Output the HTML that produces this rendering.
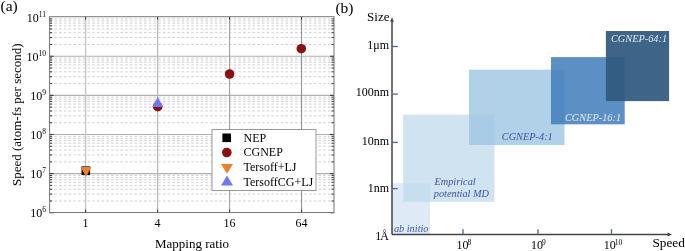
<!DOCTYPE html>
<html><head><meta charset="utf-8"><style>
html,body{margin:0;padding:0;background:#fff;width:685px;height:251px;overflow:hidden}
svg{display:block;will-change:transform}
text{font-family:"Liberation Serif",serif}
.t12{font-size:12px} .t13{font-size:13px} .t15{font-size:15.5px}
.ti{font-size:10.3px;font-style:italic}
</style></head><body>
<svg width="685" height="251" viewBox="0 0 685 251"><rect x="0" y="0" width="685" height="251" fill="#fff"/>
<line x1="49.6" x2="334.0" y1="200.99" y2="200.99" stroke="#d0d0d0" stroke-width="1" stroke-dasharray="2.6 2.116" stroke-dashoffset="-0.1"/>
<line x1="49.6" x2="334.0" y1="194.10" y2="194.10" stroke="#d0d0d0" stroke-width="1" stroke-dasharray="2.6 2.116" stroke-dashoffset="-0.1"/>
<line x1="49.6" x2="334.0" y1="189.21" y2="189.21" stroke="#d0d0d0" stroke-width="1" stroke-dasharray="2.6 2.116" stroke-dashoffset="-0.1"/>
<line x1="49.6" x2="334.0" y1="185.42" y2="185.42" stroke="#d0d0d0" stroke-width="1" stroke-dasharray="2.6 2.116" stroke-dashoffset="-0.1"/>
<line x1="49.6" x2="334.0" y1="182.32" y2="182.32" stroke="#d0d0d0" stroke-width="1" stroke-dasharray="2.6 2.116" stroke-dashoffset="-0.1"/>
<line x1="49.6" x2="334.0" y1="179.70" y2="179.70" stroke="#d0d0d0" stroke-width="1" stroke-dasharray="2.6 2.116" stroke-dashoffset="-0.1"/>
<line x1="49.6" x2="334.0" y1="177.43" y2="177.43" stroke="#d0d0d0" stroke-width="1" stroke-dasharray="2.6 2.116" stroke-dashoffset="-0.1"/>
<line x1="49.6" x2="334.0" y1="175.43" y2="175.43" stroke="#d0d0d0" stroke-width="1" stroke-dasharray="2.6 2.116" stroke-dashoffset="-0.1"/>
<line x1="49.6" x2="334.0" y1="161.86" y2="161.86" stroke="#d0d0d0" stroke-width="1" stroke-dasharray="2.6 2.116" stroke-dashoffset="-0.1"/>
<line x1="49.6" x2="334.0" y1="154.97" y2="154.97" stroke="#d0d0d0" stroke-width="1" stroke-dasharray="2.6 2.116" stroke-dashoffset="-0.1"/>
<line x1="49.6" x2="334.0" y1="150.08" y2="150.08" stroke="#d0d0d0" stroke-width="1" stroke-dasharray="2.6 2.116" stroke-dashoffset="-0.1"/>
<line x1="49.6" x2="334.0" y1="146.29" y2="146.29" stroke="#d0d0d0" stroke-width="1" stroke-dasharray="2.6 2.116" stroke-dashoffset="-0.1"/>
<line x1="49.6" x2="334.0" y1="143.19" y2="143.19" stroke="#d0d0d0" stroke-width="1" stroke-dasharray="2.6 2.116" stroke-dashoffset="-0.1"/>
<line x1="49.6" x2="334.0" y1="140.57" y2="140.57" stroke="#d0d0d0" stroke-width="1" stroke-dasharray="2.6 2.116" stroke-dashoffset="-0.1"/>
<line x1="49.6" x2="334.0" y1="138.30" y2="138.30" stroke="#d0d0d0" stroke-width="1" stroke-dasharray="2.6 2.116" stroke-dashoffset="-0.1"/>
<line x1="49.6" x2="334.0" y1="136.30" y2="136.30" stroke="#d0d0d0" stroke-width="1" stroke-dasharray="2.6 2.116" stroke-dashoffset="-0.1"/>
<line x1="49.6" x2="334.0" y1="122.73" y2="122.73" stroke="#d0d0d0" stroke-width="1" stroke-dasharray="2.6 2.116" stroke-dashoffset="-0.1"/>
<line x1="49.6" x2="334.0" y1="115.84" y2="115.84" stroke="#d0d0d0" stroke-width="1" stroke-dasharray="2.6 2.116" stroke-dashoffset="-0.1"/>
<line x1="49.6" x2="334.0" y1="110.95" y2="110.95" stroke="#d0d0d0" stroke-width="1" stroke-dasharray="2.6 2.116" stroke-dashoffset="-0.1"/>
<line x1="49.6" x2="334.0" y1="107.16" y2="107.16" stroke="#d0d0d0" stroke-width="1" stroke-dasharray="2.6 2.116" stroke-dashoffset="-0.1"/>
<line x1="49.6" x2="334.0" y1="104.06" y2="104.06" stroke="#d0d0d0" stroke-width="1" stroke-dasharray="2.6 2.116" stroke-dashoffset="-0.1"/>
<line x1="49.6" x2="334.0" y1="101.44" y2="101.44" stroke="#d0d0d0" stroke-width="1" stroke-dasharray="2.6 2.116" stroke-dashoffset="-0.1"/>
<line x1="49.6" x2="334.0" y1="99.17" y2="99.17" stroke="#d0d0d0" stroke-width="1" stroke-dasharray="2.6 2.116" stroke-dashoffset="-0.1"/>
<line x1="49.6" x2="334.0" y1="97.17" y2="97.17" stroke="#d0d0d0" stroke-width="1" stroke-dasharray="2.6 2.116" stroke-dashoffset="-0.1"/>
<line x1="49.6" x2="334.0" y1="83.60" y2="83.60" stroke="#d0d0d0" stroke-width="1" stroke-dasharray="2.6 2.116" stroke-dashoffset="-0.1"/>
<line x1="49.6" x2="334.0" y1="76.71" y2="76.71" stroke="#d0d0d0" stroke-width="1" stroke-dasharray="2.6 2.116" stroke-dashoffset="-0.1"/>
<line x1="49.6" x2="334.0" y1="71.82" y2="71.82" stroke="#d0d0d0" stroke-width="1" stroke-dasharray="2.6 2.116" stroke-dashoffset="-0.1"/>
<line x1="49.6" x2="334.0" y1="68.03" y2="68.03" stroke="#d0d0d0" stroke-width="1" stroke-dasharray="2.6 2.116" stroke-dashoffset="-0.1"/>
<line x1="49.6" x2="334.0" y1="64.93" y2="64.93" stroke="#d0d0d0" stroke-width="1" stroke-dasharray="2.6 2.116" stroke-dashoffset="-0.1"/>
<line x1="49.6" x2="334.0" y1="62.31" y2="62.31" stroke="#d0d0d0" stroke-width="1" stroke-dasharray="2.6 2.116" stroke-dashoffset="-0.1"/>
<line x1="49.6" x2="334.0" y1="60.04" y2="60.04" stroke="#d0d0d0" stroke-width="1" stroke-dasharray="2.6 2.116" stroke-dashoffset="-0.1"/>
<line x1="49.6" x2="334.0" y1="58.04" y2="58.04" stroke="#d0d0d0" stroke-width="1" stroke-dasharray="2.6 2.116" stroke-dashoffset="-0.1"/>
<line x1="49.6" x2="334.0" y1="44.47" y2="44.47" stroke="#d0d0d0" stroke-width="1" stroke-dasharray="2.6 2.116" stroke-dashoffset="-0.1"/>
<line x1="49.6" x2="334.0" y1="37.58" y2="37.58" stroke="#d0d0d0" stroke-width="1" stroke-dasharray="2.6 2.116" stroke-dashoffset="-0.1"/>
<line x1="49.6" x2="334.0" y1="32.69" y2="32.69" stroke="#d0d0d0" stroke-width="1" stroke-dasharray="2.6 2.116" stroke-dashoffset="-0.1"/>
<line x1="49.6" x2="334.0" y1="28.90" y2="28.90" stroke="#d0d0d0" stroke-width="1" stroke-dasharray="2.6 2.116" stroke-dashoffset="-0.1"/>
<line x1="49.6" x2="334.0" y1="25.80" y2="25.80" stroke="#d0d0d0" stroke-width="1" stroke-dasharray="2.6 2.116" stroke-dashoffset="-0.1"/>
<line x1="49.6" x2="334.0" y1="23.18" y2="23.18" stroke="#d0d0d0" stroke-width="1" stroke-dasharray="2.6 2.116" stroke-dashoffset="-0.1"/>
<line x1="49.6" x2="334.0" y1="20.91" y2="20.91" stroke="#d0d0d0" stroke-width="1" stroke-dasharray="2.6 2.116" stroke-dashoffset="-0.1"/>
<line x1="49.6" x2="334.0" y1="18.91" y2="18.91" stroke="#d0d0d0" stroke-width="1" stroke-dasharray="2.6 2.116" stroke-dashoffset="-0.1"/>
<line x1="49.6" x2="334.0" y1="173.64" y2="173.64" stroke="#b0b0b0" stroke-width="1.2"/>
<line x1="49.6" x2="334.0" y1="134.51" y2="134.51" stroke="#b0b0b0" stroke-width="1.2"/>
<line x1="49.6" x2="334.0" y1="95.38" y2="95.38" stroke="#b0b0b0" stroke-width="1.2"/>
<line x1="49.6" x2="334.0" y1="56.25" y2="56.25" stroke="#b0b0b0" stroke-width="1.2"/>
<line x1="85.6" x2="85.6" y1="16.7" y2="212.5" stroke="#c4c4c4" stroke-width="1.3"/>
<line x1="157.6" x2="157.6" y1="16.7" y2="212.5" stroke="#b8b8b8" stroke-width="1.2"/>
<line x1="229.6" x2="229.6" y1="16.7" y2="212.5" stroke="#999" stroke-width="1"/>
<line x1="301.6" x2="301.6" y1="16.7" y2="212.5" stroke="#8a8a8a" stroke-width="1"/>
<line x1="49.6" x2="52.1" y1="200.99" y2="200.99" stroke="#333" stroke-width="1"/>
<line x1="331.5" x2="334.0" y1="200.99" y2="200.99" stroke="#333" stroke-width="1"/>
<line x1="49.6" x2="52.1" y1="194.10" y2="194.10" stroke="#333" stroke-width="1"/>
<line x1="331.5" x2="334.0" y1="194.10" y2="194.10" stroke="#333" stroke-width="1"/>
<line x1="49.6" x2="52.1" y1="189.21" y2="189.21" stroke="#333" stroke-width="1"/>
<line x1="331.5" x2="334.0" y1="189.21" y2="189.21" stroke="#333" stroke-width="1"/>
<line x1="49.6" x2="52.1" y1="185.42" y2="185.42" stroke="#333" stroke-width="1"/>
<line x1="331.5" x2="334.0" y1="185.42" y2="185.42" stroke="#333" stroke-width="1"/>
<line x1="49.6" x2="52.1" y1="182.32" y2="182.32" stroke="#333" stroke-width="1"/>
<line x1="331.5" x2="334.0" y1="182.32" y2="182.32" stroke="#333" stroke-width="1"/>
<line x1="49.6" x2="52.1" y1="179.70" y2="179.70" stroke="#333" stroke-width="1"/>
<line x1="331.5" x2="334.0" y1="179.70" y2="179.70" stroke="#333" stroke-width="1"/>
<line x1="49.6" x2="52.1" y1="177.43" y2="177.43" stroke="#333" stroke-width="1"/>
<line x1="331.5" x2="334.0" y1="177.43" y2="177.43" stroke="#333" stroke-width="1"/>
<line x1="49.6" x2="52.1" y1="175.43" y2="175.43" stroke="#333" stroke-width="1"/>
<line x1="331.5" x2="334.0" y1="175.43" y2="175.43" stroke="#333" stroke-width="1"/>
<line x1="49.6" x2="53.6" y1="212.77" y2="212.77" stroke="#333" stroke-width="1"/>
<line x1="330.0" x2="334.0" y1="212.77" y2="212.77" stroke="#333" stroke-width="1"/>
<line x1="49.6" x2="52.1" y1="161.86" y2="161.86" stroke="#333" stroke-width="1"/>
<line x1="331.5" x2="334.0" y1="161.86" y2="161.86" stroke="#333" stroke-width="1"/>
<line x1="49.6" x2="52.1" y1="154.97" y2="154.97" stroke="#333" stroke-width="1"/>
<line x1="331.5" x2="334.0" y1="154.97" y2="154.97" stroke="#333" stroke-width="1"/>
<line x1="49.6" x2="52.1" y1="150.08" y2="150.08" stroke="#333" stroke-width="1"/>
<line x1="331.5" x2="334.0" y1="150.08" y2="150.08" stroke="#333" stroke-width="1"/>
<line x1="49.6" x2="52.1" y1="146.29" y2="146.29" stroke="#333" stroke-width="1"/>
<line x1="331.5" x2="334.0" y1="146.29" y2="146.29" stroke="#333" stroke-width="1"/>
<line x1="49.6" x2="52.1" y1="143.19" y2="143.19" stroke="#333" stroke-width="1"/>
<line x1="331.5" x2="334.0" y1="143.19" y2="143.19" stroke="#333" stroke-width="1"/>
<line x1="49.6" x2="52.1" y1="140.57" y2="140.57" stroke="#333" stroke-width="1"/>
<line x1="331.5" x2="334.0" y1="140.57" y2="140.57" stroke="#333" stroke-width="1"/>
<line x1="49.6" x2="52.1" y1="138.30" y2="138.30" stroke="#333" stroke-width="1"/>
<line x1="331.5" x2="334.0" y1="138.30" y2="138.30" stroke="#333" stroke-width="1"/>
<line x1="49.6" x2="52.1" y1="136.30" y2="136.30" stroke="#333" stroke-width="1"/>
<line x1="331.5" x2="334.0" y1="136.30" y2="136.30" stroke="#333" stroke-width="1"/>
<line x1="49.6" x2="53.6" y1="173.64" y2="173.64" stroke="#333" stroke-width="1"/>
<line x1="330.0" x2="334.0" y1="173.64" y2="173.64" stroke="#333" stroke-width="1"/>
<line x1="49.6" x2="52.1" y1="122.73" y2="122.73" stroke="#333" stroke-width="1"/>
<line x1="331.5" x2="334.0" y1="122.73" y2="122.73" stroke="#333" stroke-width="1"/>
<line x1="49.6" x2="52.1" y1="115.84" y2="115.84" stroke="#333" stroke-width="1"/>
<line x1="331.5" x2="334.0" y1="115.84" y2="115.84" stroke="#333" stroke-width="1"/>
<line x1="49.6" x2="52.1" y1="110.95" y2="110.95" stroke="#333" stroke-width="1"/>
<line x1="331.5" x2="334.0" y1="110.95" y2="110.95" stroke="#333" stroke-width="1"/>
<line x1="49.6" x2="52.1" y1="107.16" y2="107.16" stroke="#333" stroke-width="1"/>
<line x1="331.5" x2="334.0" y1="107.16" y2="107.16" stroke="#333" stroke-width="1"/>
<line x1="49.6" x2="52.1" y1="104.06" y2="104.06" stroke="#333" stroke-width="1"/>
<line x1="331.5" x2="334.0" y1="104.06" y2="104.06" stroke="#333" stroke-width="1"/>
<line x1="49.6" x2="52.1" y1="101.44" y2="101.44" stroke="#333" stroke-width="1"/>
<line x1="331.5" x2="334.0" y1="101.44" y2="101.44" stroke="#333" stroke-width="1"/>
<line x1="49.6" x2="52.1" y1="99.17" y2="99.17" stroke="#333" stroke-width="1"/>
<line x1="331.5" x2="334.0" y1="99.17" y2="99.17" stroke="#333" stroke-width="1"/>
<line x1="49.6" x2="52.1" y1="97.17" y2="97.17" stroke="#333" stroke-width="1"/>
<line x1="331.5" x2="334.0" y1="97.17" y2="97.17" stroke="#333" stroke-width="1"/>
<line x1="49.6" x2="53.6" y1="134.51" y2="134.51" stroke="#333" stroke-width="1"/>
<line x1="330.0" x2="334.0" y1="134.51" y2="134.51" stroke="#333" stroke-width="1"/>
<line x1="49.6" x2="52.1" y1="83.60" y2="83.60" stroke="#333" stroke-width="1"/>
<line x1="331.5" x2="334.0" y1="83.60" y2="83.60" stroke="#333" stroke-width="1"/>
<line x1="49.6" x2="52.1" y1="76.71" y2="76.71" stroke="#333" stroke-width="1"/>
<line x1="331.5" x2="334.0" y1="76.71" y2="76.71" stroke="#333" stroke-width="1"/>
<line x1="49.6" x2="52.1" y1="71.82" y2="71.82" stroke="#333" stroke-width="1"/>
<line x1="331.5" x2="334.0" y1="71.82" y2="71.82" stroke="#333" stroke-width="1"/>
<line x1="49.6" x2="52.1" y1="68.03" y2="68.03" stroke="#333" stroke-width="1"/>
<line x1="331.5" x2="334.0" y1="68.03" y2="68.03" stroke="#333" stroke-width="1"/>
<line x1="49.6" x2="52.1" y1="64.93" y2="64.93" stroke="#333" stroke-width="1"/>
<line x1="331.5" x2="334.0" y1="64.93" y2="64.93" stroke="#333" stroke-width="1"/>
<line x1="49.6" x2="52.1" y1="62.31" y2="62.31" stroke="#333" stroke-width="1"/>
<line x1="331.5" x2="334.0" y1="62.31" y2="62.31" stroke="#333" stroke-width="1"/>
<line x1="49.6" x2="52.1" y1="60.04" y2="60.04" stroke="#333" stroke-width="1"/>
<line x1="331.5" x2="334.0" y1="60.04" y2="60.04" stroke="#333" stroke-width="1"/>
<line x1="49.6" x2="52.1" y1="58.04" y2="58.04" stroke="#333" stroke-width="1"/>
<line x1="331.5" x2="334.0" y1="58.04" y2="58.04" stroke="#333" stroke-width="1"/>
<line x1="49.6" x2="53.6" y1="95.38" y2="95.38" stroke="#333" stroke-width="1"/>
<line x1="330.0" x2="334.0" y1="95.38" y2="95.38" stroke="#333" stroke-width="1"/>
<line x1="49.6" x2="52.1" y1="44.47" y2="44.47" stroke="#333" stroke-width="1"/>
<line x1="331.5" x2="334.0" y1="44.47" y2="44.47" stroke="#333" stroke-width="1"/>
<line x1="49.6" x2="52.1" y1="37.58" y2="37.58" stroke="#333" stroke-width="1"/>
<line x1="331.5" x2="334.0" y1="37.58" y2="37.58" stroke="#333" stroke-width="1"/>
<line x1="49.6" x2="52.1" y1="32.69" y2="32.69" stroke="#333" stroke-width="1"/>
<line x1="331.5" x2="334.0" y1="32.69" y2="32.69" stroke="#333" stroke-width="1"/>
<line x1="49.6" x2="52.1" y1="28.90" y2="28.90" stroke="#333" stroke-width="1"/>
<line x1="331.5" x2="334.0" y1="28.90" y2="28.90" stroke="#333" stroke-width="1"/>
<line x1="49.6" x2="52.1" y1="25.80" y2="25.80" stroke="#333" stroke-width="1"/>
<line x1="331.5" x2="334.0" y1="25.80" y2="25.80" stroke="#333" stroke-width="1"/>
<line x1="49.6" x2="52.1" y1="23.18" y2="23.18" stroke="#333" stroke-width="1"/>
<line x1="331.5" x2="334.0" y1="23.18" y2="23.18" stroke="#333" stroke-width="1"/>
<line x1="49.6" x2="52.1" y1="20.91" y2="20.91" stroke="#333" stroke-width="1"/>
<line x1="331.5" x2="334.0" y1="20.91" y2="20.91" stroke="#333" stroke-width="1"/>
<line x1="49.6" x2="52.1" y1="18.91" y2="18.91" stroke="#333" stroke-width="1"/>
<line x1="331.5" x2="334.0" y1="18.91" y2="18.91" stroke="#333" stroke-width="1"/>
<line x1="49.6" x2="53.6" y1="56.25" y2="56.25" stroke="#333" stroke-width="1"/>
<line x1="330.0" x2="334.0" y1="56.25" y2="56.25" stroke="#333" stroke-width="1"/>
<line x1="85.6" x2="85.6" y1="209.5" y2="212.5" stroke="#333" stroke-width="1"/>
<line x1="85.6" x2="85.6" y1="16.7" y2="19.7" stroke="#333" stroke-width="1"/>
<line x1="157.6" x2="157.6" y1="209.5" y2="212.5" stroke="#333" stroke-width="1"/>
<line x1="157.6" x2="157.6" y1="16.7" y2="19.7" stroke="#333" stroke-width="1"/>
<line x1="229.6" x2="229.6" y1="209.5" y2="212.5" stroke="#333" stroke-width="1"/>
<line x1="229.6" x2="229.6" y1="16.7" y2="19.7" stroke="#333" stroke-width="1"/>
<line x1="301.6" x2="301.6" y1="209.5" y2="212.5" stroke="#333" stroke-width="1"/>
<line x1="301.6" x2="301.6" y1="16.7" y2="19.7" stroke="#333" stroke-width="1"/>
<rect x="49.6" y="16.7" width="284.4" height="195.8" fill="none" stroke="#777" stroke-width="1"/>
<text x="46" y="217.27" text-anchor="end" class="t12">10<tspan dy="-5" font-size="7.5">6</tspan></text>
<text x="46" y="178.14" text-anchor="end" class="t12">10<tspan dy="-5" font-size="7.5">7</tspan></text>
<text x="46" y="139.01" text-anchor="end" class="t12">10<tspan dy="-5" font-size="7.5">8</tspan></text>
<text x="46" y="99.88" text-anchor="end" class="t12">10<tspan dy="-5" font-size="7.5">9</tspan></text>
<text x="46" y="60.75" text-anchor="end" class="t12">10<tspan dy="-5" font-size="7.5">10</tspan></text>
<text x="46" y="21.62" text-anchor="end" class="t12">10<tspan dy="-5" font-size="7.5">11</tspan></text>
<text x="85.6" y="227" text-anchor="middle" class="t12">1</text>
<text x="157.6" y="227" text-anchor="middle" class="t12">4</text>
<text x="229.6" y="227" text-anchor="middle" class="t12">16</text>
<text x="301.6" y="227" text-anchor="middle" class="t12">64</text>
<text x="192" y="248" text-anchor="middle" class="t13">Mapping ratio</text>
<text transform="translate(21,114.7) rotate(-90)" text-anchor="middle" class="t13">Speed (atom-fs per second)</text>
<text x="0.5" y="11" class="t15">(a)</text>
<rect x="81.5" y="166.39999999999998" width="8.6" height="8.6" fill="#000"/>
<polygon points="80.5,167.0 91.5,167.0 86,177.0" fill="#e8812f"/>
<circle cx="157.7" cy="106.7" r="4.8" fill="#8b1111"/>
<polygon points="152.2,107.0 163.2,107.0 157.7,97.0" fill="#6f78f2"/>
<circle cx="229.6" cy="74.0" r="4.8" fill="#8b1111"/>
<circle cx="301.3" cy="48.7" r="4.8" fill="#8b1111"/>
<rect x="212" y="129.5" width="104" height="61" fill="#fff" stroke="#999" stroke-width="1"/>
<rect x="222.39999999999998" y="133.5" width="8.6" height="8.6" fill="#000"/>
<circle cx="226.8" cy="152.5" r="4.8" fill="#8b1111"/>
<polygon points="221.0,164.1 233.0,164.1 227,173.70000000000002" fill="#e8812f"/>
<polygon points="221.0,185.6 233.0,185.6 227,175.6" fill="#6f78f2"/>
<text x="243.5" y="141.7" class="t12">NEP</text>
<text x="243.5" y="156.4" class="t12">CGNEP</text>
<text x="243.5" y="171.3" class="t12">Tersoff+LJ</text>
<text x="243.5" y="185.8" class="t12">TersoffCG+LJ</text>
<text x="335.4" y="12.7" class="t15">(b)</text>
<rect x="392.0" y="183.2" width="38.0" height="51.30000000000001" fill="#deebf6" fill-opacity="1"/>
<rect x="403.2" y="114.7" width="91.19999999999999" height="87.10000000000001" fill="#c0daed" fill-opacity="0.76"/>
<rect x="469" y="69.7" width="95.5" height="75.3" fill="#9ec6e4" fill-opacity="0.8"/>
<rect x="551.0" y="57.1" width="73.70000000000005" height="67.19999999999999" fill="#447ebb" fill-opacity="0.87"/>
<rect x="605.9" y="31" width="63.200000000000045" height="70.1" fill="#325a80" fill-opacity="0.94"/>
<text x="393.9" y="232.4" class="ti" style="fill:#3f549c">ab initio</text>
<text x="434.5" y="184.5" class="ti" style="fill:#3f549c">Empirical</text>
<text x="433.8" y="196.5" class="ti" style="fill:#3f549c">potential MD</text>
<text x="501.8" y="140" class="ti" style="fill:#3f549c">CGNEP-4:1</text>
<text x="565" y="121.3" class="ti" style="fill:#e4ebf4">CGNEP-16:1</text>
<text x="611" y="41.7" class="ti" style="fill:#e4ebf4">CGNEP-64:1</text>
<line x1="392.0" x2="392.0" y1="234.5" y2="21" stroke="#444" stroke-width="1.5"/>
<polygon points="392.0,17.3 390.1,21.8 393.9,21.8" fill="#444"/>
<line x1="392.0" x2="668" y1="234.5" y2="234.5" stroke="#444" stroke-width="1.5"/>
<polygon points="672,234.5 667.6,232.4 667.6,236.6" fill="#444"/>
<line x1="392.0" x2="397.8" y1="46.5" y2="46.5" stroke="#50658a" stroke-width="1.3"/>
<text x="389" y="48.6" text-anchor="end" class="t12">1μm</text>
<line x1="392.0" x2="397.8" y1="94.1" y2="94.1" stroke="#50658a" stroke-width="1.3"/>
<text x="389" y="96.0" text-anchor="end" class="t12">100nm</text>
<line x1="392.0" x2="397.8" y1="142.4" y2="142.4" stroke="#50658a" stroke-width="1.3"/>
<text x="389" y="144.8" text-anchor="end" class="t12">10nm</text>
<line x1="392.0" x2="397.8" y1="188.6" y2="188.6" stroke="#50658a" stroke-width="1.3"/>
<text x="389" y="191.8" text-anchor="end" class="t12">1nm</text>
<text x="389" y="239.8" text-anchor="end" class="t12">1<tspan dx="-0.9">Å</tspan></text>
<text x="389.5" y="21" text-anchor="end" class="t13">Size</text>
<line x1="463.0" x2="463.0" y1="234.5" y2="229.2" stroke="#50658a" stroke-width="1.3"/>
<text x="456.4" y="249" class="t12">10<tspan dx="-1" dy="-4" font-size="7.5">8</tspan></text>
<line x1="538.0" x2="538.0" y1="234.5" y2="229.2" stroke="#50658a" stroke-width="1.3"/>
<text x="531.1" y="249" class="t12">10<tspan dx="-1" dy="-4" font-size="7.5">9</tspan></text>
<line x1="611.5" x2="611.5" y1="234.5" y2="229.2" stroke="#50658a" stroke-width="1.3"/>
<text x="603.8" y="249" class="t12">10<tspan dx="-1" dy="-4" font-size="7.5">10</tspan></text>
<text x="652.4" y="246.8" class="t13" style="font-size:13.3px">Speed</text></svg>
</body></html>
